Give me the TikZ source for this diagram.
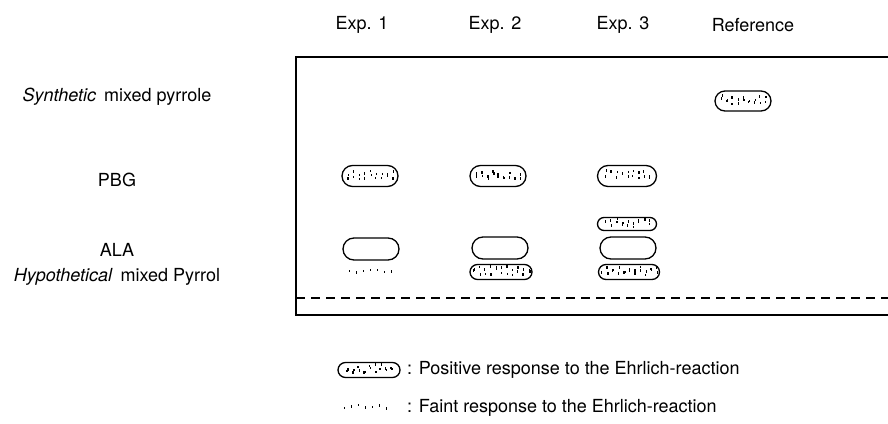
\documentclass[tikz,border=0pt]{standalone}
\usepackage{fontspec}
\setmainfont{TeX Gyre Heros}
\usetikzlibrary{shapes.misc}
\tikzset{
  lbl/.style={font=\fontsize{18}{21}\selectfont, inner sep=1pt},
  band/.style={rounded rectangle, draw, line width=1.3pt, inner sep=0pt,
               minimum width=56pt, minimum height=21pt},
  thinband/.style={band, minimum height=14pt},
  % vertical ticks in columns, #1 columns either side of the centre
  stipple/.style={path picture={
      \foreach \c in {-#1,...,#1}
        \foreach \r in {1,2}
          \fill ([shift={({\c*5.5pt+rand*0.8pt},{rand*4.5pt})}]path picture bounding box.center)
            rectangle ++(1.3pt,2.6pt);}},
  faint/.style={path picture={
      \foreach \c in {-#1,...,#1}
        \fill ([shift={({\c*7pt},{rand*2.5pt})}]path picture bounding box.center)
          rectangle ++(1.4pt,2.6pt);}},
}
\begin{document}
\begin{tikzpicture}[x=1pt, y=-1pt]
  \pgfmathsetseed{4711}
  \useasboundingbox (0,0) rectangle (888,423);
  % column headings
  \node[lbl] (exp1) at (362,25) {Exp. 1};
  \node[lbl] (exp2) at (495,25) {Exp. 2};
  \node[lbl] (exp3) at (623,25) {Exp. 3};
  \node[lbl] (ref)  at (753,25) {Reference};
  % row labels
  \node[lbl] (synth) at (117,97)  {\textit{Synthetic}\, mixed pyrrole};
  \node[lbl] (pbg)   at (117,180) {PBG};
  \node[lbl] (ala)   at (117,250) {ALA};
  \node[lbl] (hypo)  at (117,277) {\textit{Hypothetical}\, mixed Pyrrol};
  % plate
  \draw[line width=1.4pt] (888,57) -- (296,57) -- (296,315) -- (888,315);
  \draw[line width=1.2pt, dash pattern=on 9pt off 6pt] (296,298) -- (888,298);
  % reference lane
  \node[band, stipple=4, minimum height=20pt] (refS) at (743,101) {};
  % PBG row
  \node[band, stipple=4] (pbg1) at (370,176) {};
  \node[band, stipple=4] (pbg2) at (498,176) {};
  \node[band, stipple=4, minimum width=59pt] (pbg3) at (627,176) {};
  % extra spot, Exp. 3
  \node[thinband, stipple=4, minimum width=59pt, minimum height=13pt] (top3) at (627,224) {};
  % ALA row
  \node[band, minimum height=22pt] (ala1) at (371,249) {};
  \node[band, minimum height=22pt] (ala2) at (500,248) {};
  \node[band, minimum height=22pt] (ala3) at (628,248) {};
  % mixed pyrrol row
  \node[minimum width=48pt, minimum height=8pt, inner sep=0pt, faint=3] (hyp1) at (370,273) {};
  \node[thinband, stipple=5, minimum width=62pt, minimum height=15pt] (hyp2) at (501,272) {};
  \node[thinband, stipple=5, minimum width=61pt, minimum height=15pt] (hyp3) at (629,272) {};
  % legend
  \node[thinband, stipple=4, minimum width=62pt, minimum height=15pt] (keyPos) at (369,370) {};
  \node[lbl, right] (keyPosT) at (406,370) {: Positive response to the Ehrlich-reaction};
  \node[minimum width=50pt, minimum height=8pt, inner sep=0pt, faint=3] (keyFnt) at (365,408) {};
  \node[lbl, right] (keyFntT) at (406,408) {: Faint response to the Ehrlich-reaction};
\end{tikzpicture}
\end{document}
